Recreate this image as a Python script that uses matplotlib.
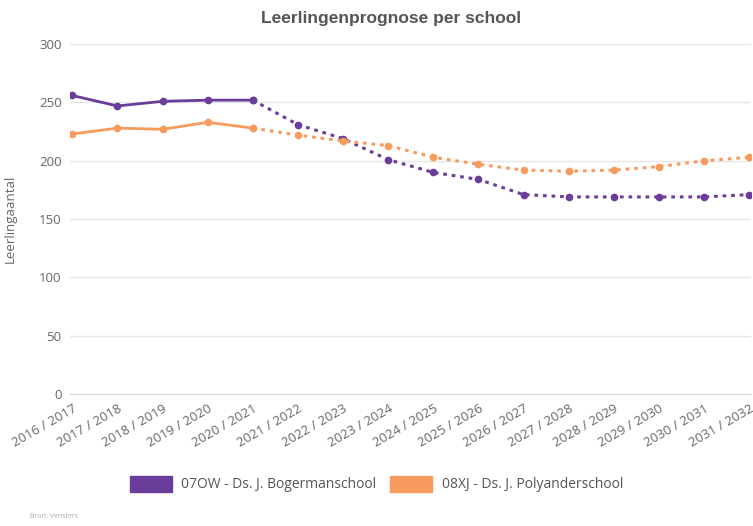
import matplotlib.pyplot as plt
import numpy as np

plt.rcParams["font.family"] = ["Open Sans", "DejaVu Sans"]

years = [
    "2016 / 2017", "2017 / 2018", "2018 / 2019", "2019 / 2020",
    "2020 / 2021", "2021 / 2022", "2022 / 2023", "2023 / 2024",
    "2024 / 2025", "2025 / 2026", "2026 / 2027", "2027 / 2028",
    "2028 / 2029", "2029 / 2030", "2030 / 2031", "2031 / 2032",
]
bogerman = [256, 247, 251, 252, 252, 231, 219, 201, 190, 184, 171, 169, 169, 169, 169, 171]
polyander = [223, 228, 227, 233, 228, 222, 217, 213, 203, 197, 192, 191, 192, 195, 200, 203]
last_actual = 4  # 2020 / 2021, everything after is forecast

series = [
    ("07OW - Ds. J. Bogermanschool", bogerman, "#6a3d9a"),
    ("08XJ - Ds. J. Polyanderschool", polyander, "#f79b5e"),
]

fig = plt.figure(figsize=(7.53, 5.26), dpi=100)
ax = fig.add_axes([0.093, 0.251, 0.905, 0.665])

x = np.arange(len(years))
for name, vals, color in series:
    vals = np.array(vals)
    ax.plot(x[:last_actual + 1], vals[:last_actual + 1], color=color, lw=2,
            marker="o", ms=4.5, zorder=3)
    ax.plot(x[last_actual:], vals[last_actual:], color=color, lw=2.2,
            ls=(0, (1.2, 1.6)), marker="o", ms=4.5, zorder=3)

ax.set_xlim(-0.05, len(years) - 1 + 0.05)
ax.set_ylim(0, 300)
ax.set_yticks(range(0, 301, 50))
ax.grid(axis="y", color="#e6e6e6", lw=1)
ax.set_axisbelow(True)
for side in ["top", "right", "left"]:
    ax.spines[side].set_visible(False)
ax.spines["bottom"].set_color("#d8d8d8")
ax.tick_params(axis="both", length=0, colors="#666666", labelsize=9.5)
ax.tick_params(axis="y", pad=6)
ax.set_xticks(x)
ax.set_xticklabels(years, rotation=30, ha="right", rotation_mode="anchor")
ax.tick_params(axis="x", pad=6)
ax.set_ylabel("Leerlingaantal", color="#666666", fontsize=9.5)
ax.yaxis.set_label_coords(-0.078, 0.5)

fig.text(0.52, 0.965, "Leerlingenprognose per school", ha="center", va="center",
         fontsize=12.5, color="#555555", fontweight="bold", family=["Liberation Sans", "DejaVu Sans"])

# legend with square colour swatches
handles = [plt.Rectangle((0, 0), 1, 1, color=c) for _, _, c in series]
fig.legend(handles, [n for n, _, _ in series], loc="center", bbox_to_anchor=(0.5, 0.08),
           ncol=2, frameon=False, fontsize=10, handlelength=3.0, handleheight=1.4,
           handletextpad=0.7, columnspacing=1.0, labelcolor="#555555")

fig.text(0.04, 0.015, "Bron: Vensters", fontsize=5, color="#aaaaaa")

fig.savefig("out.png", dpi=100)
